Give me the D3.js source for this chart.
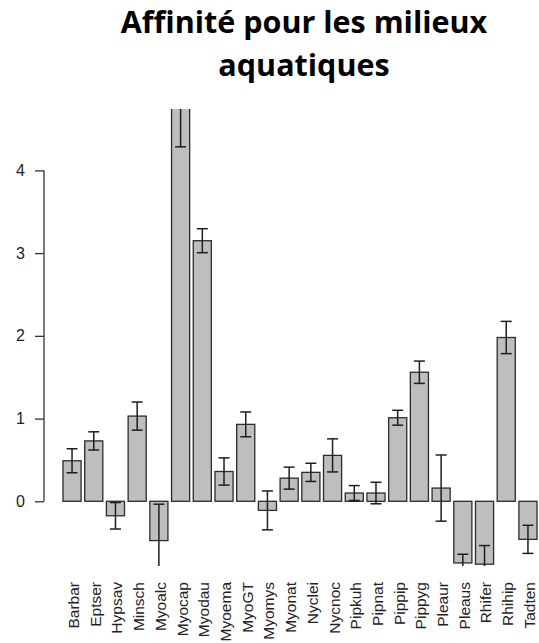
<!DOCTYPE html>
<html>
<head>
<meta charset="utf-8">
<script src="https://cdn.jsdelivr.net/npm/d3@7"></script>
<style>
  body { margin: 0; background: #fff; }
  svg { display: block; }
</style>
</head>
<body>
<div id="chart"></div>
<script>
const species = ['Barbar', 'Eptser', 'Hypsav', 'Minsch', 'Myoalc', 'Myocap', 'Myodau', 'Myoema',
    'MyoGT', 'Myomys', 'Myonat', 'Nyclei', 'Nycnoc', 'Pipkuh', 'Pipnat', 'Pippip', 'Pippyg',
    'Pleaur', 'Pleaus', 'Rhifer', 'Rhihip', 'Tadten'];
const means = [0.49, 0.73, -0.175, 1.03, -0.475, 4.75, 3.15, 0.36, 0.93, -0.11, 0.28,
    0.35, 0.555, 0.10, 0.10, 1.01, 1.56, 0.16, -0.745, -0.76, 1.98, -0.46];
const errors = [0.145, 0.11, 0.16, 0.17, 0.44, 0.465, 0.145, 0.165, 0.15, 0.235, 0.133,
    0.11, 0.2, 0.09, 0.13, 0.09, 0.135, 0.4, 0.105, 0.225, 0.195, 0.17];
const yTicks = [0, 1, 2, 3, 4];
const titleLines = ['Affinité pour les milieux', 'aquatiques'];

const data = species.map((s, i) => ({ name: s, mean: means[i], se: errors[i] }));

const width = 539, height = 643;
const plot = { left: 44, right: 539, top: 110, bottom: 565 };
const labelFont = "'Liberation Sans', Arial, sans-serif";

const svg = d3.select("#chart")
    .append("svg")
    .attr("width", width)
    .attr("height", height);

// scales
const x = d3.scaleBand()
    .domain(species)
    .range([63, 537])
    .paddingInner(1 / 6)
    .paddingOuter(0);

const y = d3.scaleLinear()
    .domain([-0.77, 4.73])
    .range([plot.bottom, plot.top]);

// clip to the plot region, like R does
svg.append("clipPath")
    .attr("id", "plotclip")
    .append("rect")
    .attr("x", plot.left)
    .attr("y", plot.top - 1)
    .attr("width", plot.right - plot.left)
    .attr("height", plot.bottom - plot.top + 2);

const g = svg.append("g").attr("clip-path", "url(#plotclip)");

// bars
g.selectAll(".bar")
    .data(data)
    .enter().append("rect")
    .attr("class", "bar")
    .attr("x", d => x(d.name))
    .attr("width", x.bandwidth())
    .attr("y", d => y(Math.max(0, d.mean)))
    .attr("height", d => Math.abs(y(d.mean) - y(0)))
    .attr("fill", "#bebebe")
    .attr("stroke", "#2b2b2b")
    .attr("stroke-width", 1.3);

// error bars
const cap = 5.5;
const err = g.selectAll(".err")
    .data(data)
    .enter().append("g")
    .attr("class", "err")
    .attr("stroke", "#1e1e1e")
    .attr("stroke-width", 1.5);

err.append("line")
    .attr("x1", d => x(d.name) + x.bandwidth() / 2)
    .attr("x2", d => x(d.name) + x.bandwidth() / 2)
    .attr("y1", d => y(d.mean + d.se))
    .attr("y2", d => y(d.mean - d.se));

err.append("line")
    .attr("x1", d => x(d.name) + x.bandwidth() / 2 - cap)
    .attr("x2", d => x(d.name) + x.bandwidth() / 2 + cap)
    .attr("y1", d => y(d.mean + d.se))
    .attr("y2", d => y(d.mean + d.se));

err.append("line")
    .attr("x1", d => x(d.name) + x.bandwidth() / 2 - cap)
    .attr("x2", d => x(d.name) + x.bandwidth() / 2 + cap)
    .attr("y1", d => y(d.mean - d.se))
    .attr("y2", d => y(d.mean - d.se));

// y axis
const yAxis = svg.append("g")
    .attr("transform", `translate(${plot.left},0)`)
    .call(d3.axisLeft(y).tickValues(yTicks).tickFormat(d3.format("d"))
        .tickSize(9).tickPadding(10).tickSizeOuter(0));
yAxis.select(".domain")
    .attr("d", `M0,${y(yTicks[0])}V${y(yTicks[yTicks.length - 1])}`)
    .attr("stroke", "#333")
    .attr("stroke-width", 1.3);
yAxis.selectAll(".tick line").attr("stroke", "#333").attr("stroke-width", 1.3);
yAxis.selectAll(".tick text")
    .attr("fill", "#222")
    .style("font-family", labelFont)
    .style("font-size", "16px");

// x labels, vertical
svg.append("g")
    .selectAll("text")
    .data(species)
    .enter().append("text")
    .attr("transform", d => `translate(${x(d) + x.bandwidth() / 2 + 1.5},582) rotate(-90)`)
    .attr("dy", "0.35em")
    .attr("text-anchor", "end")
    .attr("fill", "#222")
    .style("font-family", labelFont)
    .style("font-size", "15.5px")
    .text(d => d);

// title
svg.append("g")
    .selectAll("text")
    .data(titleLines)
    .enter().append("text")
    .attr("x", 304)
    .attr("y", (d, i) => 33 + i * 43)
    .attr("text-anchor", "middle")
    .style("font-family", "'Open Sans', sans-serif")
    .style("font-weight", "bold")
    .style("font-size", "30.5px")
    .attr("fill", "#000")
    .text(d => d);
</script>
</body>
</html>
